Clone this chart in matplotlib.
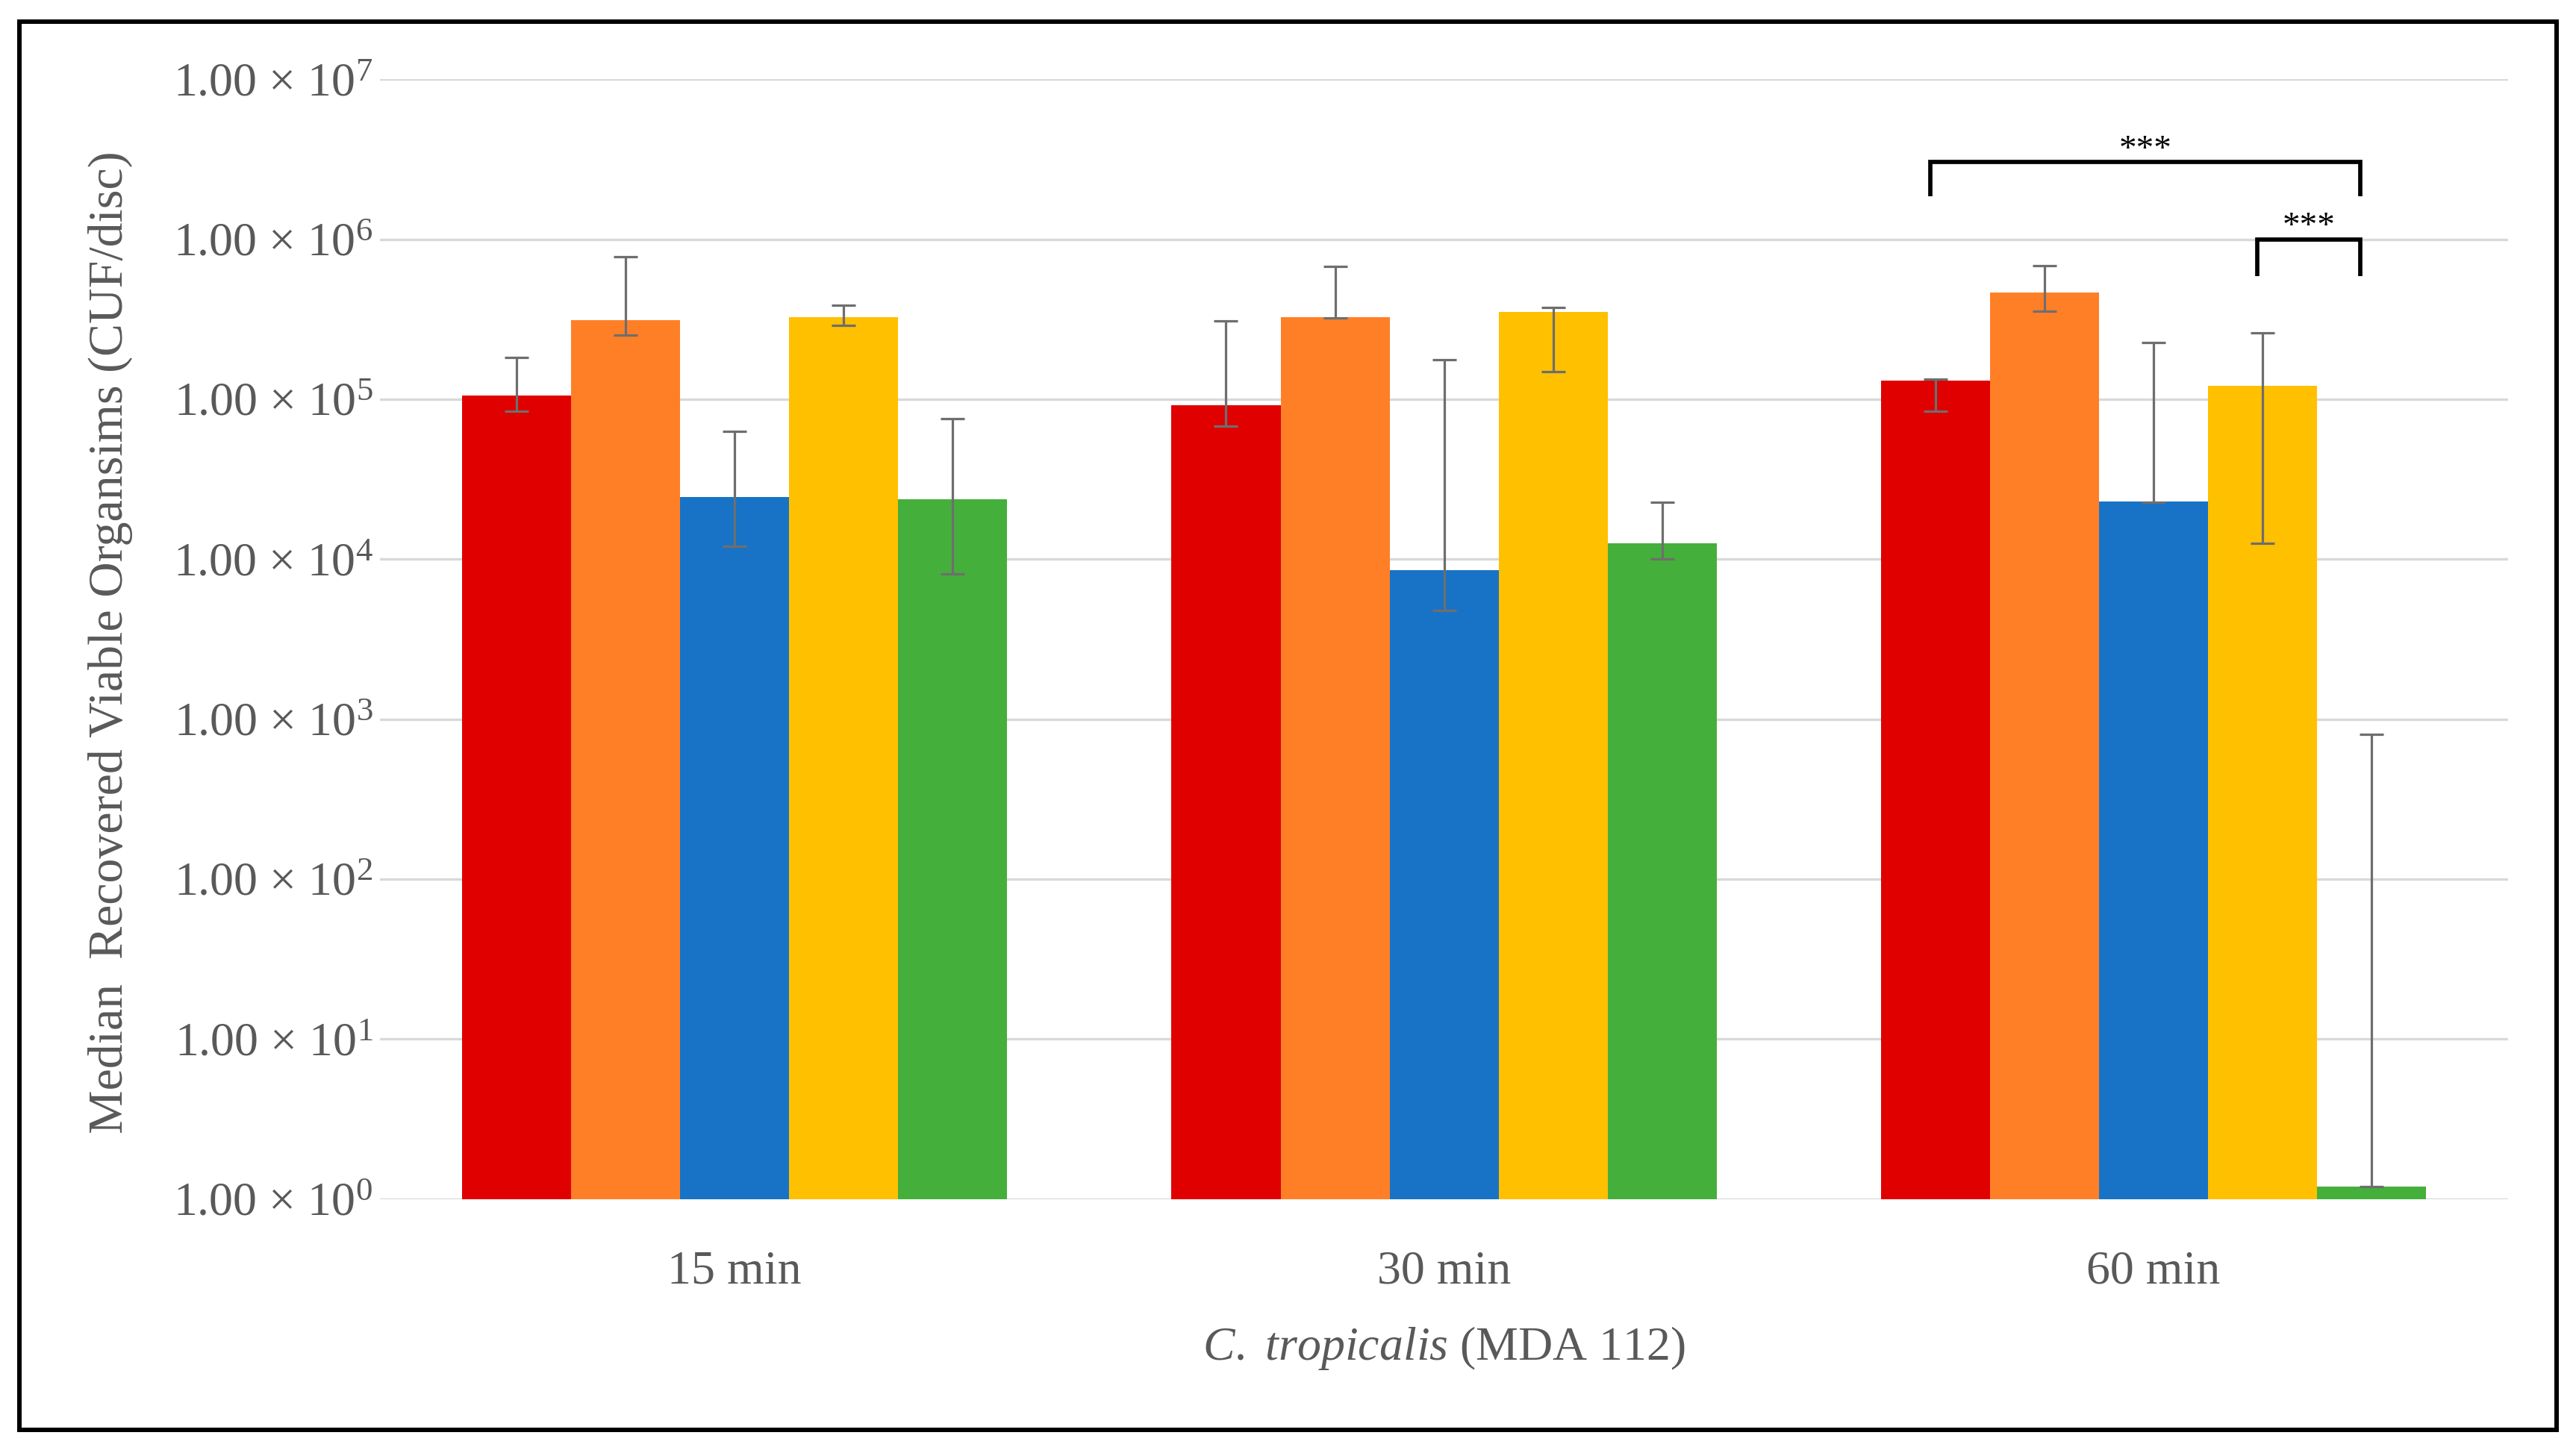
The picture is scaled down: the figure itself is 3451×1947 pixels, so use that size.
import numpy as np
import matplotlib
matplotlib.use("Agg")
import matplotlib.pyplot as plt
from matplotlib.patches import Rectangle
from matplotlib.ticker import NullLocator

# ---------------- data ----------------
categories = ["15 min", "30 min", "60 min"]
series_colors = ["#E00000", "#FF7F27", "#1873C7", "#FFC000", "#45AF3B"]

red_med = [1.05e5, 9.15e4, 1.30e5]
red_lo = [8.4e4, 6.8e4, 8.4e4]
red_hi = [1.83e5, 3.09e5, 1.33e5]

orange_med = [3.13e5, 3.26e5, 4.63e5]
orange_lo = [2.51e5, 3.22e5, 3.56e5]
orange_hi = [7.8e5, 6.76e5, 6.8e5]

blue_med = [2.45e4, 8.5e3, 2.3e4]
blue_lo = [1.2e4, 4.8e3, 2.27e4]
blue_hi = [6.3e4, 1.76e5, 2.25e5]

yellow_med = [3.26e5, 3.52e5, 1.21e5]
yellow_lo = [2.89e5, 1.48e5, 1.25e4]
yellow_hi = [3.85e5, 3.73e5, 2.6e5]

green_med = [2.37e4, 1.26e4, 1.2]
green_lo = [8.1e3, 1.0e4, 1.19]
green_hi = [7.57e4, 2.27e4, 8.0e2]

ytick_values = [1e0, 1e1, 1e2, 1e3, 1e4, 1e5, 1e6, 1e7]
ytick_labels = [r"1.00 × 10$^{%d}$" % k for k in range(8)]

ylabel_text = "Median  Recovered Viable Organsims (CUF/disc)"

# significance brackets: (category, left series, right series, top y, leg bottom y, text)
sig_brackets = [
    (2, 0, 4, 3.03e6, 1.85e6, "***"),
    (2, 3, 4, 1.0e6, 5.9e5, "***"),
]

# ---------------- style ----------------
FONT = "Liberation Serif"
plt.rcParams["font.family"] = [FONT, "DejaVu Serif"]
plt.rcParams["mathtext.fontset"] = "custom"
plt.rcParams["mathtext.rm"] = FONT
plt.rcParams["mathtext.it"] = FONT + ":italic"
plt.rcParams["mathtext.bf"] = FONT + ":bold"
TXT = "#595959"

fig = plt.figure(figsize=(34.51, 19.47), dpi=100)
ax = fig.add_axes([0.1475, 0.17488, 0.8262, 0.77057])

meds = [red_med, orange_med, blue_med, yellow_med, green_med]
los = [red_lo, orange_lo, blue_lo, yellow_lo, green_lo]
his = [red_hi, orange_hi, blue_hi, yellow_hi, green_hi]

x = np.arange(len(categories))
w = 0.1537
n = len(meds)
for i in range(n):
    xi = x + (i - (n - 1) / 2) * w
    med = np.array(meds[i])
    lo = np.array(los[i])
    hi = np.array(his[i])
    ax.bar(xi, med - 1, bottom=1, width=w, color=series_colors[i],
           edgecolor="none", zorder=2)
    ax.errorbar(xi, med, yerr=[med - lo, hi - med], fmt="none",
                ecolor="#6e6e6e", elinewidth=2.3, capsize=11.7,
                capthick=2.3, zorder=3)

ax.set_yscale("log")
ax.set_ylim(1, 1e7)
ax.set_xlim(-0.5, len(categories) - 0.5)
ax.set_yticks(ytick_values, labels=ytick_labels)
ax.yaxis.set_minor_locator(NullLocator())
ax.set_xticks(x, labels=categories)
ax.tick_params(axis="both", length=0, labelsize=46, labelcolor=TXT)
ax.tick_params(axis="y", pad=7)
ax.tick_params(axis="x", pad=50)
ax.yaxis.grid(True, color="#d9d9d9", lw=2.4, zorder=0)
ax.set_axisbelow(True)
for s in ax.spines.values():
    s.set_visible(False)

# significance brackets (legs sit slightly left of the bar centres)
left_inset, right_inset = 0.0075, 0.016
for cat, a, b, ytop, ybot, txt in sig_brackets:
    xa = cat + (a - (n - 1) / 2) * w - left_inset
    xb = cat + (b - (n - 1) / 2) * w - right_inset
    ax.plot([xa, xa, xb, xb], [ybot, ytop, ytop, ybot], color="black",
            lw=4.1, solid_joinstyle="miter", solid_capstyle="butt", zorder=4)
    ax.annotate(txt, xy=((xa + xb) / 2, ytop), xytext=(0, 3),
                textcoords="offset points", ha="center", va="baseline",
                fontsize=34, color="black")

# axis labels
ax.set_ylabel(ylabel_text, fontsize=47.4, color=TXT, va="baseline")
ax.yaxis.set_label_coords(-0.1210, 0.4969)
ax.set_xlabel(r"$\mathit{C.}$ $\mathit{tropicalis}$ (MDA 112)", fontsize=46,
              color=TXT, va="baseline")
ax.xaxis.set_label_coords(0.5, -0.1434)

# outer frame
fig.patches.append(Rectangle((0.00753, 0.01592), 0.9849, 0.9692,
                             transform=fig.transFigure, fill=False,
                             lw=4.3, ec="black"))

fig.savefig("out.png", dpi=100, facecolor="white")
